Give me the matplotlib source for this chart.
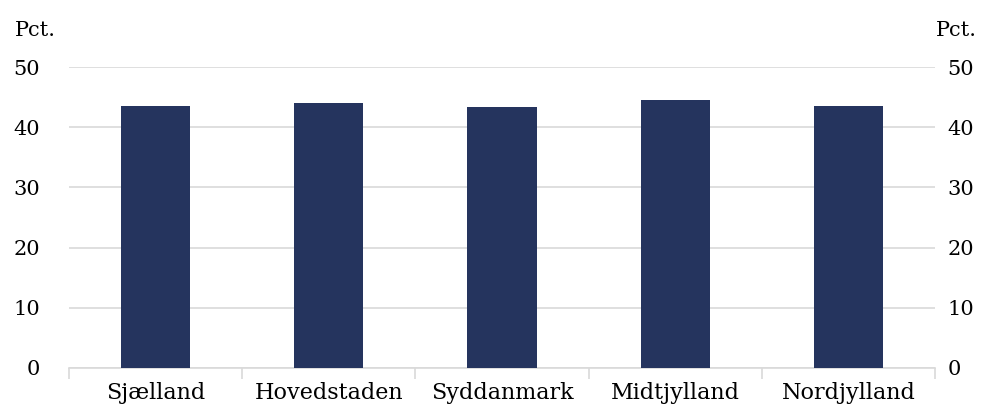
import matplotlib.pyplot as plt
import numpy as np

plt.rcParams["font.family"] = ["DejaVu Serif"]
plt.rcParams["font.size"] = 13

regions = ["Sjælland", "Hovedstaden", "Syddanmark", "Midtjylland", "Nordjylland"]
shares = [43.5, 44.0, 43.3, 44.6, 43.5]
yticks = [0, 10, 20, 30, 40, 50]

fig = plt.figure(figsize=(9.92, 4.12), dpi=100)
ax = fig.add_axes([0.0696, 0.107, 0.873, 0.730])

x = np.arange(len(regions))
ax.bar(x, shares, width=0.4, color="#25345e", zorder=3)

ax.set_xlim(-0.5, len(regions) - 0.5)
ax.set_ylim(0, 50)
ax.set_yticks(yticks)
ax.yaxis.grid(True, color="#d9d9d9", linewidth=1.2, zorder=0)
for s in ["top", "left", "right"]:
    ax.spines[s].set_visible(False)
ax.spines["bottom"].set_color("#d9d9d9")
ax.spines["bottom"].set_linewidth(1.2)

ax.set_xticks(x)
ax.set_xticklabels(regions, fontsize=16)
ax.set_xticks(np.arange(-0.5, len(regions)), minor=True)
ax.tick_params(axis="x", which="major", length=0, pad=10)
ax.tick_params(axis="x", which="minor", length=8, color="#d9d9d9", width=1.2)
ax.tick_params(axis="y", length=0, pad=21, labelsize=15)

ax2 = ax.twinx()
ax2.set_ylim(ax.get_ylim())
ax2.set_yticks(yticks)
ax2.tick_params(axis="y", length=0, pad=9, labelsize=15)
for s in ["top", "left", "right", "bottom"]:
    ax2.spines[s].set_visible(False)

fig.text(0.015, 0.925, "Pct.", fontsize=15, ha="left", va="center")
fig.text(0.985, 0.925, "Pct.", fontsize=15, ha="right", va="center")

fig.savefig("out.png", dpi=100)
